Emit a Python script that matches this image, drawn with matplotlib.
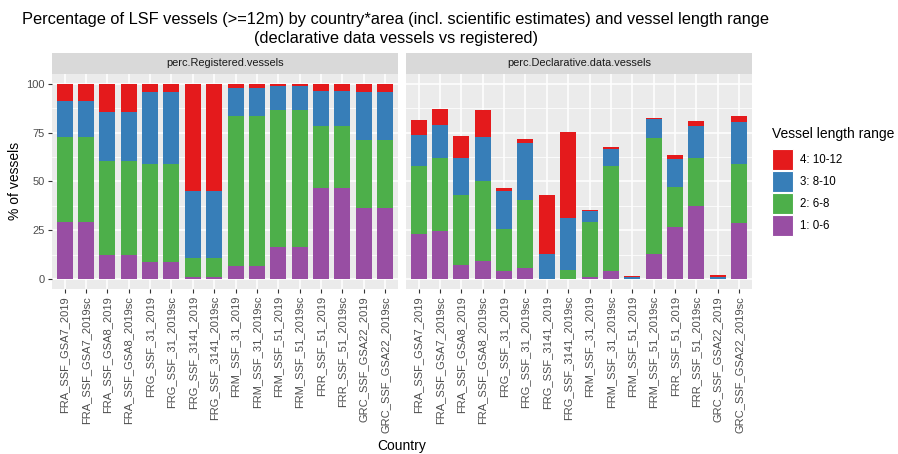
import matplotlib
matplotlib.use("Agg")
import matplotlib.pyplot as plt
from matplotlib.patches import Patch
import numpy as np

plt.rcParams['font.family'] = ['Liberation Sans', 'DejaVu Sans']

countries = ["FRA_SSF_GSA7_2019", "FRA_SSF_GSA7_2019sc", "FRA_SSF_GSA8_2019", "FRA_SSF_GSA8_2019sc",
             "FRG_SSF_31_2019", "FRG_SSF_31_2019sc", "FRG_SSF_3141_2019", "FRG_SSF_3141_2019sc",
             "FRM_SSF_31_2019", "FRM_SSF_31_2019sc", "FRM_SSF_51_2019", "FRM_SSF_51_2019sc",
             "FRR_SSF_51_2019", "FRR_SSF_51_2019sc", "GRC_SSF_GSA22_2019", "GRC_SSF_GSA22_2019sc"]

panels = ["perc.Registered.vessels", "perc.Declarative.data.vessels"]
ranges = ["4: 10-12", "3: 8-10", "2: 6-8", "1: 0-6"]
colors = ["#E41A1C", "#377EB8", "#4DAF4A", "#984EA3"]

# registered vessels (% per length range)
reg_0_6 = [29.2, 29.2, 12.2, 12.2, 8.8, 8.8, 1.2, 1.2, 6.6, 6.6, 16.4, 16.4, 46.8, 46.8, 36.6, 36.6]
reg_6_8 = [43.7, 43.7, 48.3, 48.3, 50.0, 50.0, 9.5, 9.5, 76.8, 76.8, 70.0, 70.0, 31.7, 31.7, 34.6, 34.6]
reg_8_10 = [18.5, 18.5, 24.9, 24.9, 37.0, 37.0, 34.4, 34.4, 14.6, 14.6, 12.6, 12.6, 17.6, 17.6, 24.6, 24.6]
reg_10_12 = [8.6, 8.6, 14.6, 14.6, 4.2, 4.2, 54.9, 54.9, 2.0, 2.0, 1.0, 1.0, 3.9, 3.9, 4.2, 4.2]

# declarative data vessels
dec_0_6 = [22.9, 24.6, 7.1, 9.2, 4.2, 5.8, 0.0, 0.0, 1.0, 4.1, 0.1, 12.9, 26.9, 37.5, 0.2, 29.0]
dec_6_8 = [34.9, 37.4, 35.8, 41.3, 21.6, 34.9, 0.0, 4.9, 28.2, 53.7, 0.2, 59.6, 20.4, 24.5, 0.1, 30.2]
dec_8_10 = [15.8, 16.8, 19.0, 22.2, 19.5, 29.1, 12.9, 26.5, 5.7, 9.0, 0.7, 9.4, 14.2, 16.3, 0.7, 21.3]
dec_10_12 = [7.8, 8.1, 11.5, 13.7, 1.6, 1.7, 30.0, 44.0, 0.7, 1.0, 0.7, 0.5, 1.9, 2.7, 1.2, 2.9]

W, H = 898, 454
fig = plt.figure(figsize=(W / 100, H / 100), dpi=100)

def px(x0, y0, x1, y1):
    return [x0 / W, 1 - y1 / H, (x1 - x0) / W, (y1 - y0) / H]

panel_x = [(51.7, 398.0), (405.7, 752.0)]
datasets = [[reg_0_6, reg_6_8, reg_8_10, reg_10_12], [dec_0_6, dec_6_8, dec_8_10, dec_10_12]]
xs = np.arange(len(countries))

for i, (x0, x1) in enumerate(panel_x):
    ax = fig.add_axes(px(x0, 74, x1, 289))
    ax.set_facecolor("#EBEBEB")
    for s in ax.spines.values():
        s.set_visible(False)
    ax.set_xlim(-0.6, len(countries) - 0.4)
    ax.set_ylim(-5, 105)
    ax.set_yticks([0, 25, 50, 75, 100])
    ax.set_yticks([12.5, 37.5, 62.5, 87.5], minor=True)
    ax.grid(True, which="major", color="white", linewidth=1.1)
    ax.grid(True, which="minor", axis="y", color="white", linewidth=0.55)
    ax.set_axisbelow(True)
    bottom = np.zeros(len(countries))
    segs = datasets[i]
    seg_cols = colors[::-1]
    for vals, col in zip(segs, seg_cols):
        ax.bar(xs, vals, width=0.75, bottom=bottom, color=col, edgecolor="none")
        bottom = bottom + np.array(vals)
    ax.set_xticks(xs)
    ax.set_xticklabels(countries, rotation=90, fontsize=8, color="#4D4D4D")
    ax.tick_params(axis="both", which="major", length=3, color="#333333", width=0.8, pad=2)
    ax.tick_params(axis="y", which="minor", length=0)
    if i == 0:
        ax.set_yticklabels(["0", "25", "50", "75", "100"], fontsize=8, color="#4D4D4D")
    else:
        ax.set_yticklabels([])
        ax.tick_params(axis="y", length=0)

    sax = fig.add_axes(px(x0, 53, x1, 73.5))
    sax.set_facecolor("#D9D9D9")
    sax.set_xticks([])
    sax.set_yticks([])
    for s in sax.spines.values():
        s.set_visible(False)
    sax.text(0.5, 0.5, panels[i], ha="center", va="center", fontsize=7.9, color="#1A1A1A",
             transform=sax.transAxes)

fig.text(396 / W, 1 - 29 / H,
         "Percentage of LSF vessels (>=12m) by country*area (incl. scientific estimates) and vessel length range\n"
         "(declarative data vessels vs registered)",
         ha="center", va="center", fontsize=11.8, linespacing=1.3)
fig.text(402 / W, 1 - 446 / H, "Country", ha="center", va="center", fontsize=10)
fig.text(15 / W, 1 - 181 / H, "% of vessels", ha="center", va="center", fontsize=10, rotation=90)

handles = [Patch(facecolor=c, edgecolor="white", linewidth=0.8, label=l) for c, l in zip(colors, ranges)]
leg = fig.legend(handles=handles, title="Vessel length range", loc="upper left",
                 bbox_to_anchor=(772 / W, 1 - 127 / H), frameon=False, fontsize=8.3,
                 title_fontsize=10, handlelength=1.85, handleheight=2.42, labelspacing=0.09,
                 handletextpad=0.6, borderaxespad=0, borderpad=0)
leg._legend_box.align = "left"
leg._legend_box.sep = 6

fig.savefig("out.png", dpi=100)
